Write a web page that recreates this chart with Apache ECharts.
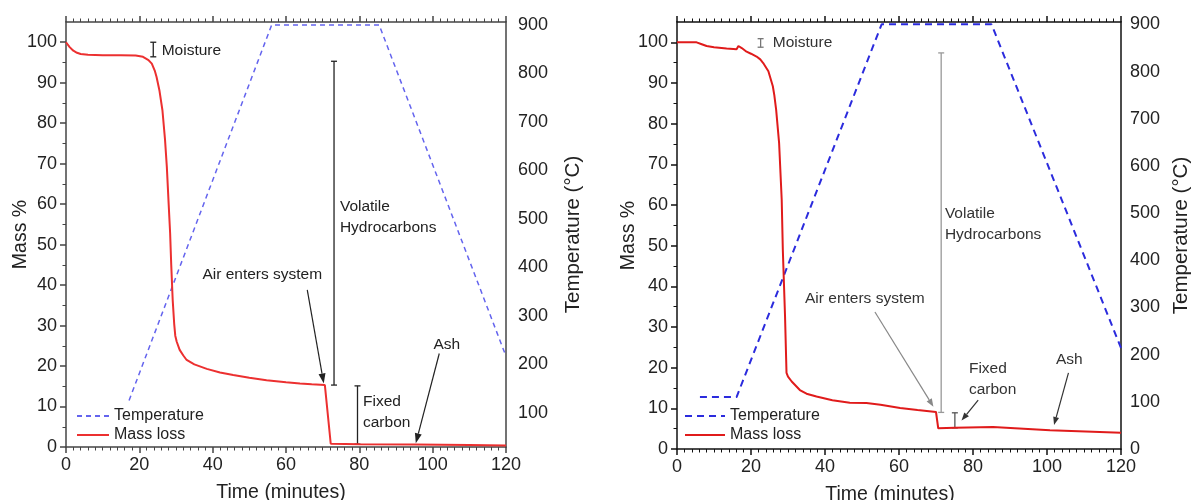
<!DOCTYPE html>
<html>
<head>
<meta charset="utf-8">
<script src="https://cdn.jsdelivr.net/npm/echarts@6/dist/echarts.min.js"></script>
<style>
  body { margin: 0; background: #fff; }
  #wrap { display: flex; width: 1192px; height: 500px; }
  #left, #right { width: 596px; height: 500px; }
</style>
</head>
<body>
<div id="wrap"><div id="left"></div><div id="right"></div></div>
<script>
// ---- left panel data: [minutes, value] ----
const massLeft = [
  [0, 100], [1, 98.8], [2, 97.9], [3, 97.4], [4, 97.1], [6, 96.9], [10, 96.8], [15, 96.8],
  [19, 96.7], [21, 96.4], [22.5, 95.6], [23.4, 94.7], [24.2, 93], [24.7, 91.4], [25.5, 88],
  [26.3, 83.2], [27, 76], [27.5, 69.2], [28, 60], [28.4, 52.8], [28.7, 45], [29.1, 36.3],
  [29.5, 30.5], [29.8, 27.5], [30.2, 26], [31, 24], [32, 22.6], [32.9, 21.5], [35, 20.4],
  [38.4, 19.3], [42, 18.4], [45.6, 17.8], [50, 17.1], [54.7, 16.5], [60, 16], [63.8, 15.7],
  [67, 15.5], [70.6, 15.3], [72.2, 0.8], [80, 0.7], [95, 0.6], [110, 0.5], [120, 0.4]
];
const tempLeft = [[17.2, 126], [56.1, 900], [85.4, 900], [120, 217]];
// brackets: [minutes, low mass, high mass]
const bracketsLeft = [[23.8, 96.4, 100.0], [73.1, 15.3, 95.3], [79.5, 0.7, 15.1]];
// arrows: [tail x, tail y, tip x, tip y]
const arrowsLeft = [[65.8, 38.8, 70.3, 15.7], [101.8, 23.1, 95.4, 0.9]];
const labelTextLeft = ['Moisture', 'Volatile\nHydrocarbons', 'Air enters system', 'Fixed\ncarbon', 'Ash'];
const labelPosLeft = [[26.1, 98.0], [74.7, 56.7], [37.2, 42.5], [81.0, 8.5], [100.2, 25.2]];

// ---- right panel data ----
const massRight = [
  [0, 100], [5.3, 100], [6.5, 99.6], [8, 99.1], [10, 98.8], [13.4, 98.5], [16.1, 98.3],
  [16.6, 99.1], [17.5, 98.6], [18.8, 97.7], [20, 97.2], [21.5, 96.5], [22.5, 95.8],
  [23.3, 94.9], [24.7, 92.9], [25.9, 89.2], [26.3, 87], [26.8, 83.4], [27.6, 75.2],
  [28.3, 61.3], [28.6, 49], [29.2, 32.6], [29.6, 18.7], [30, 17.8], [31, 16.6], [33.2, 14.5],
  [35, 13.6], [37.7, 12.9], [42, 12], [46.7, 11.4], [51.2, 11.3], [55, 10.9], [60.3, 10.1],
  [65, 9.6], [70, 9.1], [70.6, 5.1], [75.1, 5.2], [85.4, 5.4], [100.8, 4.6], [120, 4.0]
];
const tempRight = [[6.2, 110], [16.1, 110], [55.3, 900], [85, 900], [120, 214]];
const bracketsRight = [[22.6, 98.8, 100.9], [71.4, 9.0, 97.4], [75.1, 5.2, 8.9]];
const arrowsRight = [[53.5, 33.7, 69.3, 10.4], [81.4, 12.0, 76.9, 7.0], [105.8, 18.7, 101.9, 5.9]];
const labelTextRight = ['Moisture', 'Volatile\nHydrocarbons', 'Air enters system', 'Fixed\ncarbon', 'Ash'];
const labelPosRight = [[25.9, 100.0], [72.4, 55.3], [34.6, 36.9], [78.9, 17.2], [102.4, 21.9]];

// ---- tick values ----
const massLabels = [0, 10, 20, 30, 40, 50, 60, 70, 80, 90, 100];
const massMinor = [5, 15, 25, 35, 45, 55, 65, 75, 85, 95];
const tempLabelsLeft = [100, 200, 300, 400, 500, 600, 700, 800, 900];
const tempLabelsRight = [0, 100, 200, 300, 400, 500, 600, 700, 800, 900];

const FONT = '"Liberation Sans", Arial, sans-serif';

function bracketRender(colors) {
  return function (params, api) {
    const top = api.coord([api.value(0), api.value(2)]);
    const bot = api.coord([api.value(0), api.value(1)]);
    const st = { stroke: colors[params.dataIndex], lineWidth: 1.3 };
    const c = 3;
    return {
      type: 'group', children: [
        { type: 'line', shape: { x1: top[0], y1: top[1], x2: bot[0], y2: bot[1] }, style: st },
        { type: 'line', shape: { x1: top[0] - c, y1: top[1], x2: top[0] + c, y2: top[1] }, style: st },
        { type: 'line', shape: { x1: bot[0] - c, y1: bot[1], x2: bot[0] + c, y2: bot[1] }, style: st }
      ]
    };
  };
}

function arrowRender(colors, headLen, headW) {
  return function (params, api) {
    const p1 = api.coord([api.value(0), api.value(1)]);
    const p2 = api.coord([api.value(2), api.value(3)]);
    const dx = p2[0] - p1[0], dy = p2[1] - p1[1];
    const len = Math.sqrt(dx * dx + dy * dy);
    const ux = dx / len, uy = dy / len;
    const bx = p2[0] - ux * headLen, by = p2[1] - uy * headLen;
    const col = colors[params.dataIndex];
    return {
      type: 'group', children: [
        { type: 'line', shape: { x1: p1[0], y1: p1[1], x2: bx, y2: by }, style: { stroke: col, lineWidth: 1.2 } },
        { type: 'polygon', shape: { points: [p2, [bx - uy * headW, by + ux * headW], [bx + uy * headW, by - ux * headW]] }, style: { fill: col } }
      ]
    };
  };
}

function labelRender(texts, color) {
  return function (params, api) {
    const p = api.coord([api.value(0), api.value(1)]);
    return {
      type: 'text', x: p[0], y: p[1],
      style: {
        text: texts[params.dataIndex], fill: color, font: '15.5px ' + FONT,
        align: 'left', verticalAlign: 'middle', lineHeight: 21
      }
    };
  };
}

function buildOption(cfg) {
  const axisCol = cfg.axisColor;
  const lineSt = { color: axisCol, width: 1.5 };
  const xBase = {
    type: 'value', min: 0, max: 120, interval: 20,
    axisLine: { onZero: false, lineStyle: lineSt },
    axisTick: { length: 6, lineStyle: lineSt },
    minorTick: { show: true, splitNumber: 10, length: 3.5, lineStyle: { color: axisCol, width: 1 } },
    splitLine: { show: false }, minorSplitLine: { show: false }
  };
  return {
    animation: false,
    grid: Object.assign({ outerBoundsMode: 'none', containLabel: false }, cfg.grid),
    legend: {
      orient: 'vertical', left: cfg.legendLeft, top: 408, padding: 0, selectedMode: false,
      itemWidth: cfg.legendItemWidth, itemHeight: 12, itemGap: 3,
      itemStyle: { opacity: 0, color: 'transparent', borderWidth: 0 },
      textStyle: { fontSize: 16, fontFamily: FONT, color: '#222' },
      data: ['Temperature', 'Mass loss']
    },
    xAxis: [
      Object.assign({}, xBase, {
        position: 'bottom', name: 'Time (minutes)', nameLocation: 'middle', nameGap: 36,
        nameMoveOverlap: false,
        nameTextStyle: { fontSize: 19.5, fontFamily: FONT, color: '#222', padding: [0, cfg.timeShift, 0, 0] },
        axisLabel: { fontSize: 18, fontFamily: FONT, color: '#222', margin: 9 }
      }),
      Object.assign({}, xBase, { position: 'top', axisLabel: { show: false } })
    ],
    yAxis: [
      {
        type: 'value', min: 0, max: 105, position: 'left',
        name: 'Mass %', nameLocation: 'middle', nameGap: cfg.massNameGap, nameRotate: 90,
        nameMoveOverlap: false,
        nameTextStyle: { fontSize: 19.5, fontFamily: FONT, color: '#222' },
        axisLine: { show: true, lineStyle: lineSt },
        axisTick: { show: true, length: 6, customValues: massLabels, lineStyle: lineSt },
        axisLabel: { fontSize: 18, fontFamily: FONT, color: '#222', margin: 9, customValues: massLabels },
        splitLine: { show: false }
      },
      {
        type: 'value', min: 0, max: 105, position: 'left',
        axisLine: { show: false },
        axisTick: { show: true, length: 3.5, customValues: massMinor, lineStyle: { color: axisCol, width: 1 } },
        axisLabel: { show: false }, splitLine: { show: false }
      },
      {
        type: 'value', min: cfg.tempMin, max: cfg.tempMax, position: 'right',
        name: 'Temperature (°C)', nameLocation: 'middle', nameGap: cfg.tempNameGap, nameRotate: 90,
        nameTextStyle: { fontSize: 20.5, fontFamily: FONT, color: '#222' },
        axisLine: { show: true, lineStyle: lineSt },
        axisTick: { show: false },
        axisLabel: { fontSize: 18, fontFamily: FONT, color: '#222', margin: cfg.tempLabelMargin, customValues: cfg.tempLabels },
        splitLine: { show: false }
      }
    ],
    series: [
      {
        name: 'Temperature', type: 'line', data: cfg.temp, yAxisIndex: 2, symbol: 'none',
        lineStyle: { color: cfg.blue, width: cfg.blueWidth, type: cfg.blueDash }, itemStyle: { color: cfg.blue }
      },
      {
        name: 'Mass loss', type: 'line', data: cfg.mass, yAxisIndex: 0, symbol: 'none',
        lineStyle: { color: cfg.red, width: 2 }, itemStyle: { color: cfg.red }
      },
      {
        type: 'custom', yAxisIndex: 0, silent: true, data: cfg.brackets,
        encode: { x: 0, y: [1, 2] }, renderItem: bracketRender(cfg.bracketColors)
      },
      {
        type: 'custom', yAxisIndex: 0, silent: true, data: cfg.arrows,
        encode: { x: [0, 2], y: [1, 3] }, renderItem: arrowRender(cfg.arrowColors, cfg.headLen, cfg.headW)
      },
      {
        type: 'custom', yAxisIndex: 0, silent: true, data: cfg.labelPos,
        encode: { x: 0, y: 1 }, renderItem: labelRender(cfg.labelText, cfg.textColor)
      }
    ]
  };
}

const leftChart = echarts.init(document.getElementById('left'));
leftChart.setOption(buildOption({
  grid: { left: 66, right: 90, top: 22, bottom: 53 },
  axisColor: '#444',
  legendLeft: 76, legendItemWidth: 32,
  massNameGap: 35, tempNameGap: 57, tempLabelMargin: 12, timeShift: 10,
  tempMin: 30, tempMax: 906, tempLabels: tempLabelsLeft,
  temp: tempLeft, mass: massLeft,
  blue: '#6464ee', blueWidth: 1.5, blueDash: [5, 4], red: '#ec3030',
  brackets: bracketsLeft, bracketColors: ['#222', '#222', '#222'],
  arrows: arrowsLeft, arrowColors: ['#222', '#222'], headLen: 10, headW: 3.5,
  labelPos: labelPosLeft, labelText: labelTextLeft, textColor: '#222'
}));

const rightChart = echarts.init(document.getElementById('right'));
rightChart.setOption(buildOption({
  grid: { left: 81, right: 71, top: 22, bottom: 51 },
  axisColor: '#111',
  legendLeft: 88, legendItemWidth: 40,
  massNameGap: 38, tempNameGap: 50, tempLabelMargin: 9, timeShift: 18,
  tempMin: 0, tempMax: 905, tempLabels: tempLabelsRight,
  temp: tempRight, mass: massRight,
  blue: '#2b2bdd', blueWidth: 2, blueDash: [7, 5], red: '#e01b1b',
  brackets: bracketsRight, bracketColors: ['#777', '#999', '#555'],
  arrows: arrowsRight, arrowColors: ['#888', '#333', '#333'], headLen: 8, headW: 3,
  labelPos: labelPosRight, labelText: labelTextRight, textColor: '#333'
}));
</script>
</body>
</html>
